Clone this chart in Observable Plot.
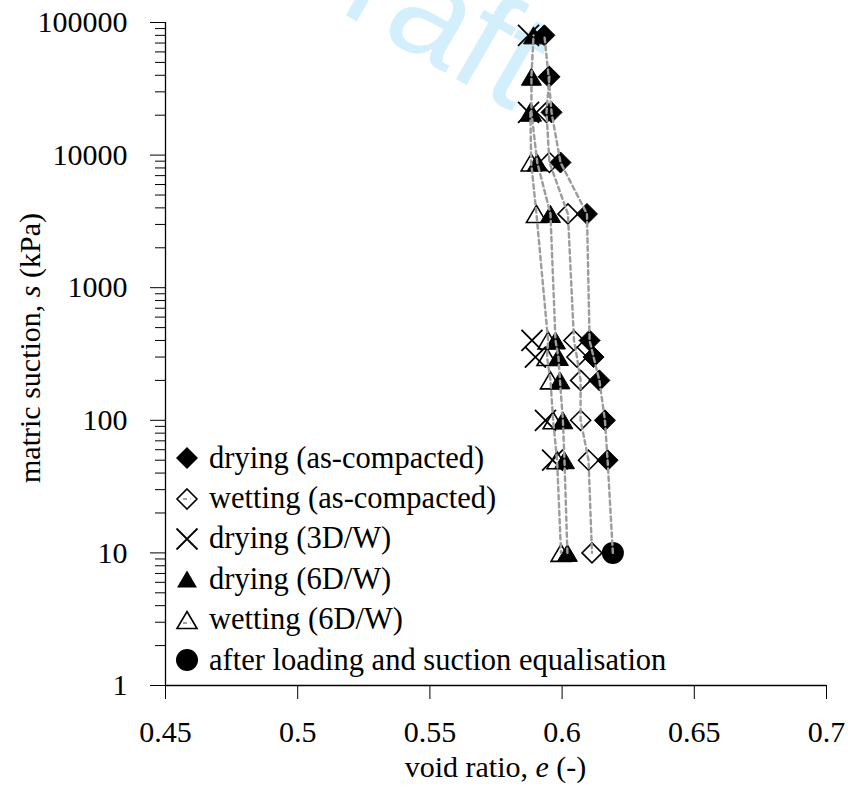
<!DOCTYPE html>
<html><head><meta charset="utf-8">
<script src="https://cdn.jsdelivr.net/npm/d3@7"></script>
<script src="https://cdn.jsdelivr.net/npm/@observablehq/plot@0.6"></script>
<style>
body{margin:0;background:#fff;}
#wrap{position:relative;width:848px;height:789px;}
#legend{position:absolute;left:172px;top:438px;font-family:"Liberation Serif","Times New Roman",serif;font-size:30.5px;color:#000;}
.row{height:40.4px;display:flex;align-items:center;white-space:nowrap;}
.row svg{width:30px;height:30px;margin-right:7px;flex:none;}
</style></head><body>
<div id="wrap"><div id="legend"></div></div>
<script>
// ---- data (void ratio e, matric suction s in kPa) ----
const xTicks = [0.45, 0.5, 0.55, 0.6, 0.65, 0.7];
const xTickLabels = ["0.45", "0.5", "0.55", "0.6", "0.65", "0.7"];
const yMajor = [1, 10, 100, 1000, 10000, 100000];
const yMajorLabels = ["1", "10", "100", "1000", "10000", "100000"];

// drying (as-compacted) – filled diamonds
const dryAC_s = [50, 100, 200, 300, 400, 3600, 8800, 21000, 39000, 80000];
const dryAC_e = [0.6172, 0.6162, 0.6141, 0.6119, 0.6104, 0.6094, 0.5994, 0.5960, 0.5949, 0.5933];
// wetting (as-compacted) – open diamonds
const wetAC_s = [39000, 21000, 8800, 3600, 400, 300, 200, 100, 50, 10];
const wetAC_e = [0.5952, 0.5941, 0.5952, 0.6022, 0.6045, 0.6056, 0.6070, 0.6070, 0.6100, 0.6113];
// drying (3D/W) – crosses
const dry3D_s = [80000, 21000, 400, 300, 100, 50];
const dry3D_e = [0.5873, 0.5873, 0.5886, 0.5899, 0.5937, 0.5964];
// drying (6D/W) – filled triangles
const dry6D_s = [10, 50, 100, 200, 300, 400, 3600, 8800, 21000, 39000, 80000];
const dry6D_e = [0.6020, 0.6009, 0.6003, 0.5992, 0.5986, 0.5975, 0.5956, 0.5906, 0.5884, 0.5884, 0.5892];
// wetting (6D/W) – open triangles
const wet6D_s = [21000, 8800, 3600, 400, 300, 200, 100, 50, 10];
const wet6D_e = [0.5880, 0.5883, 0.5903, 0.5947, 0.5943, 0.5956, 0.5966, 0.5981, 0.5996];
// after loading and suction equalisation – filled circle
const after_s = [10];
const after_e = [0.6192];

const legendLabels = ["drying (as-compacted)", "wetting (as-compacted)", "drying (3D/W)", "drying (6D/W)", "wetting (6D/W)", "after loading and suction equalisation"];

// ---- build tables ----
const rows = (es, ss) => es.map((e, i) => ({e, s: ss[i]}));
const dryAC = rows(dryAC_e, dryAC_s);
const wetAC = rows(wetAC_e, wetAC_s);
const dry3D = rows(dry3D_e, dry3D_s);
const dry6D = rows(dry6D_e, dry6D_s);
const wet6D = rows(wet6D_e, wet6D_s);
const after = rows(after_e, after_s);
const dryACline = after.concat(dryAC);

const yMinor = [];
for (let k = 0; k < 5; k++) for (let m = 2; m <= 9; m++) yMinor.push(m * Math.pow(10, k));

// ---- symbols ----
const diamondSym = {draw(ctx, size) { const r = Math.sqrt(size / Math.PI); ctx.moveTo(0, -r); ctx.lineTo(r, 0); ctx.lineTo(0, r); ctx.lineTo(-r, 0); ctx.closePath(); }};
const triSym = {draw(ctx, size) { const r = Math.sqrt(size / Math.PI); const h = r * 0.85; ctx.moveTo(0, -h); ctx.lineTo(r, h); ctx.lineTo(-r, h); ctx.closePath(); }};
const timesSym = {draw(ctx, size) { const r = Math.sqrt(size / Math.PI); ctx.moveTo(-r, -r); ctx.lineTo(r, r); ctx.moveTo(r, -r); ctx.lineTo(-r, r); }};

const lineStyle = {x: "e", y: "s", stroke: "#9c9c9c", strokeWidth: 2.4, strokeDasharray: "4.5,3.5"};

const chart = Plot.plot({
  width: 848, height: 789,
  marginLeft: 165, marginRight: 22, marginTop: 22, marginBottom: 104,
  style: {fontFamily: "'Liberation Serif','Times New Roman',serif", fontSize: "30px", color: "#000", background: "#fff"},
  x: {domain: [0.45, 0.7]},
  y: {type: "log", domain: [1, 100000]},
  marks: [
    Plot.axisX({ticks: xTicks, tickSize: 14, tickPadding: 21, tickFormat: d => xTickLabels[xTicks.indexOf(d)], fontSize: 30, label: null, stroke: "#000"}),
    Plot.axisY({ticks: yMajor, tickSize: 15, tickPadding: 23, tickFormat: d => yMajorLabels[yMajor.indexOf(d)], fontSize: 30, label: null, stroke: "#000"}),
    Plot.axisY({ticks: yMinor, tickSize: 10, tickFormat: () => "", label: null, stroke: "#000"}),
    Plot.ruleX([0.45], {stroke: "#000", strokeWidth: 1.3}),
    Plot.ruleY([1], {stroke: "#000", strokeWidth: 1.3}),
    Plot.dot(wetAC, {x: "e", y: "s", symbol: diamondSym, r: 10, fill: "none", stroke: "#000", strokeWidth: 1.6}),
    Plot.dot(dry3D, {x: "e", y: "s", symbol: timesSym, r: 10.5, fill: "none", stroke: "#000", strokeWidth: 1.8}),
    Plot.dot(wet6D, {x: "e", y: "s", symbol: triSym, r: 10, fill: "none", stroke: "#000", strokeWidth: 1.6}),
    Plot.dot(dry6D, {x: "e", y: "s", symbol: triSym, r: 10, fill: "#000", stroke: "#000", strokeWidth: 1}),
    Plot.dot(dryAC, {x: "e", y: "s", symbol: diamondSym, r: 10.5, fill: "#000", stroke: "#000", strokeWidth: 1}),
    Plot.dot(after, {x: "e", y: "s", r: 11, fill: "#000"}),
    Plot.line(dryACline, lineStyle),
    Plot.line(wetAC, lineStyle),
    Plot.line(dry6D, lineStyle),
    Plot.line(wet6D, lineStyle)
  ]
});

const svg = d3.select(chart);
// watermark
svg.insert("text", "g")
  .attr("transform", "translate(250,-40) rotate(30)")
  .attr("text-anchor", "start")
  .attr("font-family", "'Liberation Sans',Arial,sans-serif")
  .attr("font-size", 140)
  .attr("fill", "#d3effc")
  .text("Draft");
// axis titles
const xt = svg.append("text").attr("x", 495.5).attr("y", 777).attr("text-anchor", "middle").attr("font-size", 30).attr("fill", "#000");
xt.append("tspan").text("void ratio, ");
xt.append("tspan").attr("font-style", "italic").text("e");
xt.append("tspan").text(" (-)");
const yt = svg.append("text").attr("transform", "translate(40,348) rotate(-90)").attr("text-anchor", "middle").attr("font-size", 30).attr("fill", "#000");
yt.append("tspan").text("matric suction, ");
yt.append("tspan").attr("font-style", "italic").text("s");
yt.append("tspan").text(" (kPa)");

document.getElementById("wrap").prepend(chart);

// legend
const legendSyms = [
  '<path d="M15,4 L26,15 L15,26 L4,15 Z" fill="#000"/>',
  '<path d="M15,5 L25,15 L15,25 L5,15 Z" fill="none" stroke="#000" stroke-width="1.6"/><line x1="11" y1="15" x2="19" y2="15" stroke="#a3a3a3" stroke-width="2" stroke-dasharray="4,3.5"/>',
  '<path d="M4.5,4.5 L25.5,25.5 M25.5,4.5 L4.5,25.5" stroke="#000" stroke-width="1.8" fill="none"/>',
  '<path d="M15,6.5 L25,23.5 L5,23.5 Z" fill="#000"/>',
  '<path d="M15,6.5 L25,23.5 L5,23.5 Z" fill="none" stroke="#000" stroke-width="1.6"/><line x1="11" y1="18" x2="19" y2="18" stroke="#a3a3a3" stroke-width="2" stroke-dasharray="4,3.5"/>',
  '<circle cx="15" cy="15" r="11" fill="#000"/>'
];
const leg = document.getElementById("legend");
legendLabels.forEach((lab, i) => {
  const row = document.createElement("div");
  row.className = "row";
  row.innerHTML = '<svg viewBox="0 0 30 30">' + legendSyms[i] + '</svg><span></span>';
  row.querySelector("span").textContent = lab;
  leg.appendChild(row);
});
</script>
</body></html>
